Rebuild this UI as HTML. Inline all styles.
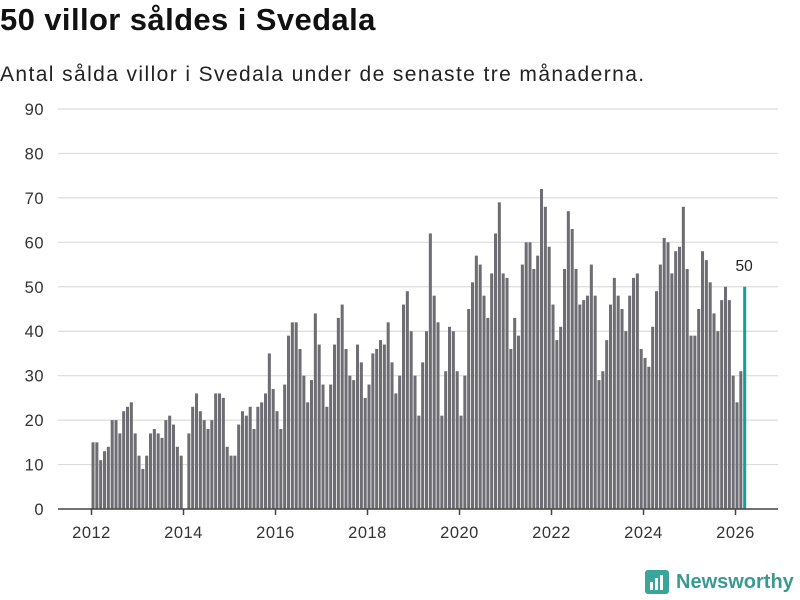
<!DOCTYPE html>
<html><head><meta charset="utf-8"><style>
body{margin:0;width:800px;height:600px;background:#fff;font-family:"Liberation Sans","DejaVu Sans",sans-serif;overflow:hidden}
h1{position:absolute;left:0;top:2px;margin:0;font-size:31px;font-weight:bold;color:#111;letter-spacing:0.4px}
p.sub{position:absolute;left:0;top:63px;margin:0;font-size:21px;color:#222;letter-spacing:1.4px}
svg{position:absolute;left:0;top:0}
</style></head><body>
<h1>50 villor såldes i Svedala</h1>
<p class="sub">Antal sålda villor i Svedala under de senaste tre månaderna.</p>
<svg id="c" width="800" height="600"></svg>
<script>
const startYear = 2012;
const values = [15,15,11,13,14,20,20,17,22,23,24,17,
12,9,12,17,18,17,16,20,21,19,14,12,
0,17,23,26,22,20,18,20,26,26,25,14,
12,12,19,22,21,23,18,23,24,26,35,27,
22,18,28,39,42,42,36,30,24,29,44,37,
28,23,28,37,43,46,36,30,29,37,33,25,
28,35,36,38,37,42,33,26,30,46,49,40,
30,21,33,40,62,48,42,21,31,41,40,31,
21,30,45,51,57,55,48,43,53,62,69,53,
52,36,43,39,55,60,60,54,57,72,68,59,
46,38,41,54,67,63,54,46,47,48,55,48,
29,31,38,46,52,48,45,40,48,52,53,36,
34,32,41,49,55,61,60,53,58,59,68,54,
39,39,45,58,56,51,44,40,47,50,47,30,
24,31,50];
const yTicks = [0,10,20,30,40,50,60,70,80,90];
const xTicks = [2012,2014,2016,2018,2020,2022,2024,2026];
const NS='http://www.w3.org/2000/svg';
const svg=document.getElementById('c');
const y0=509, yPer=400/90;
const yS=v=>y0-v*yPer;
const xS=t=>91.5+(t-2012)*46;
function el(n,a){const e=document.createElementNS(NS,n);for(const k in a)e.setAttribute(k,a[k]);svg.appendChild(e);return e;}
yTicks.forEach(t=>{
 if(t>0){const g=el('line',{x1:58,x2:778,y1:yS(t),y2:yS(t),stroke:'#dcdcdc','stroke-width':1.2});
 
 }
 const l=el('text',{x:44,y:yS(t)+6,'text-anchor':'end','font-size':16.5,fill:'#333','letter-spacing':0.5});l.textContent=t;
 
 
});
const mw=46/12;
values.forEach((v,i)=>{
 const last=i===values.length-1;
 const x=xS(startYear+i/12);
 const r=el('rect',{x:x,y:yS(v),width:mw-0.8,height:v*yPer,fill:last?'#14a098':'#6e6d73'});
 
 
 if(last){const t=el('text',{x:x+1,y:yS(v)-16,'text-anchor':'middle','font-size':15.5,fill:'#222'});t.textContent=v;
 
 }
});
const ax=el('line',{x1:58,x2:778,y1:y0,y2:y0,stroke:'#444','stroke-width':1.5});


xTicks.forEach(t=>{
 const tk=el('line',{x1:xS(t),x2:xS(t),y1:y0,y2:y0+6,stroke:'#444','stroke-width':1.5});
 
 
 const l=el('text',{x:xS(t),y:538,'text-anchor':'middle','font-size':16.5,fill:'#333','letter-spacing':0.5});l.textContent=t;
 
 
});
</script>
<div style="position:absolute;left:645px;top:570px;display:flex;align-items:center">
<svg width="24" height="24" style="position:static"><rect x="0" y="0" width="24" height="24" rx="3" fill="#3aa59b"/><rect x="5" y="12" width="3" height="8" fill="#fff"/><rect x="10" y="8" width="3" height="12" fill="#fff"/><rect x="15" y="5" width="3" height="15" fill="#fff"/></svg>
<span style="margin-left:7px;font-size:20px;font-weight:bold;color:#3a9a92">Newsworthy</span>
</div>
</body></html>
